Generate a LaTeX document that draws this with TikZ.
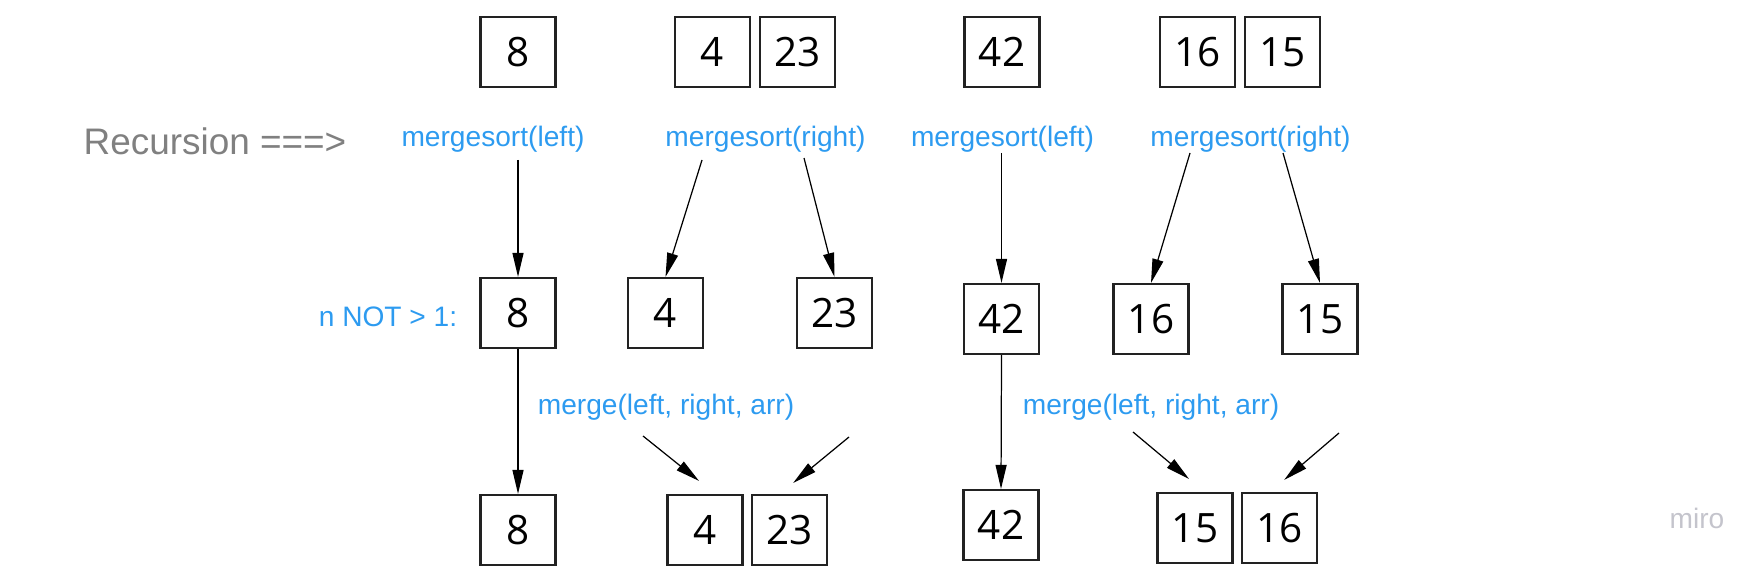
\documentclass[tikz,border=0pt]{standalone}
\usepackage{fontspec}
\setmainfont{Liberation Sans}
\newfontfamily\numfont{Open Sans}
\usetikzlibrary{arrows.meta,positioning,calc}
\definecolor{callblue}{HTML}{2D9BF0}
\definecolor{recgray}{HTML}{808080}
\definecolor{markgray}{HTML}{C4C4CC}
\definecolor{boxline}{HTML}{222222}
\tikzset{
  cell/.style={draw=boxline, line width=0.6pt, minimum width=0.75cm,
    minimum height=0.70cm, inner sep=0pt,
    font=\numfont\fontsize{11.5}{14}\selectfont},
  call/.style={text=callblue, inner sep=0pt, font=\fontsize{8}{10}\selectfont},
  flow/.style={-{Triangle[length=0.24cm,width=0.11cm]}, line width=0.35pt},
}

\begin{document}
\begin{tikzpicture}[x=0.01cm,y=-0.01cm]
  \useasboundingbox (0,0) rectangle (1761,567);

  % split
  \node[cell] (t8) at (518,52) {8};
  \node[cell] (t4) at (712.5,52) {4};
  \node[cell, right=0.075cm of t4] (t23) {23};
  \node[cell] (t42) at (1002,52) {42};
  \node[cell] (t16) at (1197.5,52) {16};
  \node[cell, right=0.075cm of t16] (t15) {15};

  \node[text=recgray, inner sep=0pt, font=\fontsize{10.5}{13}\selectfont]
    (rec) at (215,141.5) {Recursion ===>};
  \node[call] (msl1) at (493,139) {mergesort(left)};
  \node[call] (msr1) at (765.5,139) {mergesort(right)};
  \node[call] (msl2) at (1002.5,139) {mergesort(left)};
  \node[call] (msr2) at (1250.5,139) {mergesort(right)};

  % single cells
  \node[cell] (m8) at (518,313) {8};
  \node[cell] (m4) at (665.5,313) {4};
  \node[cell] (m23) at (834.5,313) {23};
  \node[cell] (m42) at (1001.5,319) {42};
  \node[cell] (m16) at (1151,319) {16};
  \node[cell] (m15) at (1320,319) {15};
  \node[call] (base) at (388,317) {n NOT > 1:};

  \coordinate (s1) at (518,160);
  \coordinate (s2) at (702,160);
  \coordinate (s3) at (804,158);
  \coordinate (s4) at (1001.5,153);
  \coordinate (s5) at (1190,153);
  \coordinate (s6) at (1283,153);
  \draw[flow] (s1) -- (m8.north);
  \draw[flow] (s2) -- (m4.north);
  \draw[flow] (s3) -- (m23.north);
  \draw[flow] (s4) -- (m42.north);
  \draw[flow] (s5) -- (m16.north);
  \draw[flow] (s6) -- (m15.north);

  % merge
  \node[cell] (b8) at (518,530) {8};
  \node[cell] (b4) at (705,530) {4};
  \node[cell, right=0.075cm of b4] (b23) {23};
  \node[cell] (b42) at (1001,525) {42};
  \node[cell] (b15) at (1195,528) {15};
  \node[cell, right=0.075cm of b15] (b16) {16};
  \node[call] (mg1) at (666,407) {merge(left, right, arr)};
  \node[call] (mg2) at (1151,407) {merge(left, right, arr)};

  \draw[flow] (m8.south) -- (b8.north);
  \draw[flow] (m42.south) -- (b42.north);
  \coordinate (g1) at (643,436);
  \coordinate (g2) at (849,437);
  \coordinate (g3) at (1133,432);
  \coordinate (g4) at (1339,433);
  \draw[flow] (g1) -- ($(b4.north)+(-6,-13)$);
  \draw[flow] (g2) -- ($(b23.north)+(3.5,-11)$);
  \draw[flow] (g3) -- ($(b15.north)+(-6,-13)$);
  \draw[flow] (g4) -- ($(b16.north)+(4.5,-12)$);

  \node[text=markgray, inner sep=0pt, font=\fontsize{8}{10}\selectfont]
    (mark) at (1697,518) {miro};
\end{tikzpicture}
\end{document}
